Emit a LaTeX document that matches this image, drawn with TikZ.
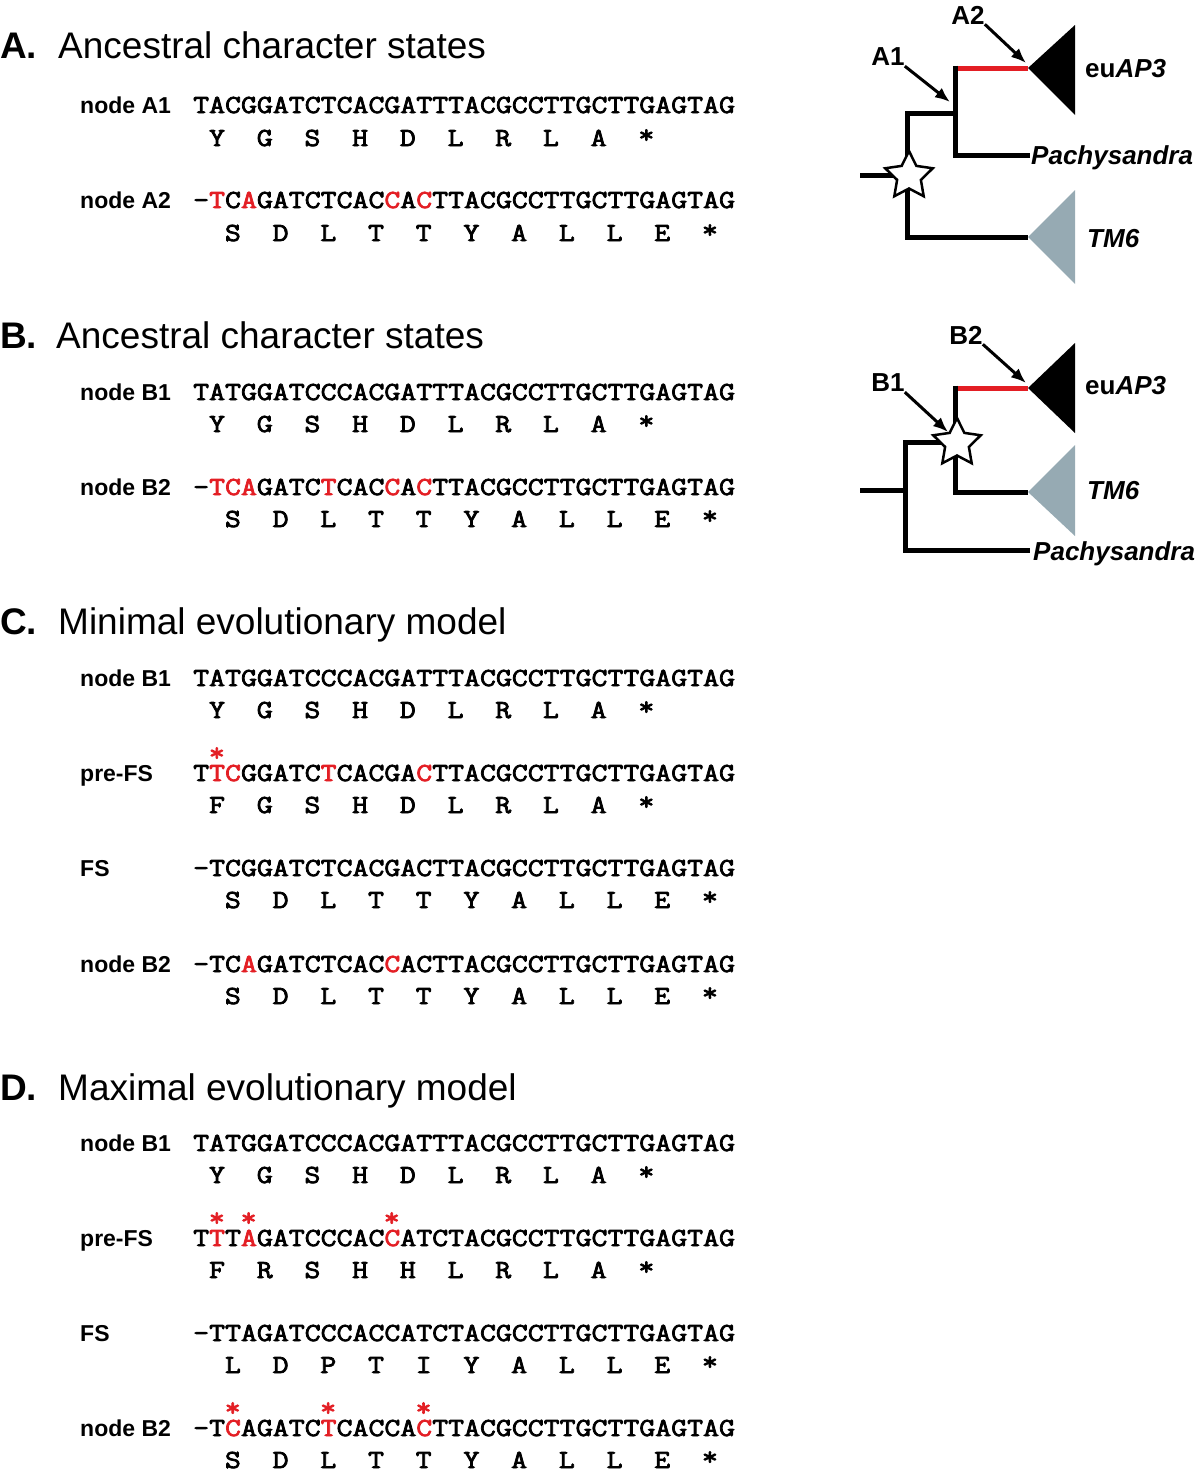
\documentclass[tikz,border=0pt]{standalone}
\usepackage{fontspec}
\setmainfont{Liberation Sans}
\newfontfamily\seqfont{Latin Modern Mono}[FakeStretch=1.19, FakeBold=3]
\usepackage{xcolor}
\usetikzlibrary{shapes.geometric, positioning, arrows.meta}

\definecolor{hit}{RGB}{227,30,36}
\definecolor{clade}{RGB}{150,170,179}

\newlength{\cw}\setlength{\cw}{15.9pt}
\newcommand{\hl}[1]{\textcolor{hit}{#1}}
\newcommand{\stopc}{\raisebox{3pt}{*}}
\newcommand{\codons}[1]{\foreach \res in {#1}{\makebox[3\cw]{\res}}}

\begin{document}
\begin{tikzpicture}[
    x=1pt, y=-1pt,
    heading/.style={anchor=base west, inner sep=0, font=\fontsize{37}{40}\selectfont},
    tag/.style={anchor=base west, inner sep=0, font=\fontsize{23}{26}\selectfont\bfseries},
    seq/.style={anchor=base west, inner sep=0, font=\fontsize{26}{30}\selectfont\seqfont},
    hitstar/.style={seq, anchor=base, text=hit},
    branch/.style={line width=5pt},
    cladelab/.style={anchor=base west, inner sep=0, font=\fontsize{26}{30}\selectfont\bfseries},
    nodelab/.style={cladelab, anchor=center},
    ptr/.style={line width=3pt, -{Latex[length=15pt,width=12pt]}},
    dup/.style={star, star points=5, star point ratio=2, minimum size=50pt, draw, fill=white, line width=2.5pt, inner sep=0}
]
    \useasboundingbox (0,0) rectangle (1200,1475);

    % Panel A
    \node[heading] (hA) at (0,58) {\textbf{A.}};
    \node[heading] (tA) at (58,58) {Ancestral character states};
    \node[tag] (lA1) at (80,113) {node A1};
    \node[seq] (sA1) at (193,113) {TACGGATCTCACGATTTACGCCTTGCTTGAGTAG};
    \node[seq] (pA1) at (193,146) {\codons{Y,G,S,H,D,L,R,L,A,\stopc}};
    \node[tag] (lA2) at (80,208) {node A2};
    \node[seq] (sA2) at (193,208) {–\hl{T}C\hl{A}GATCTCAC\hl{C}A\hl{C}TTACGCCTTGCTTGAGTAG};
    \node[seq] (pA2) at (208.9,241) {\codons{S,D,L,T,T,Y,A,L,L,E,\stopc}};

    % Panel B
    \node[heading] (hB) at (0,348) {\textbf{B.}};
    \node[heading] (tB) at (56,348) {Ancestral character states};
    \node[tag] (lB1) at (80,400) {node B1};
    \node[seq] (sB1) at (193,400) {TATGGATCCCACGATTTACGCCTTGCTTGAGTAG};
    \node[seq] (pB1) at (193,432) {\codons{Y,G,S,H,D,L,R,L,A,\stopc}};
    \node[tag] (lB2) at (80,495) {node B2};
    \node[seq] (sB2) at (193,495) {–\hl{TCA}GATC\hl{T}CAC\hl{C}A\hl{C}TTACGCCTTGCTTGAGTAG};
    \node[seq] (pB2) at (208.9,527) {\codons{S,D,L,T,T,Y,A,L,L,E,\stopc}};

    % Panel C
    \node[heading] (hC) at (0,634) {\textbf{C.}};
    \node[heading] (tC) at (58,634) {Minimal evolutionary model};
    \node[tag] (lC1) at (80,686) {node B1};
    \node[seq] (sC1) at (193,686) {TATGGATCCCACGATTTACGCCTTGCTTGAGTAG};
    \node[seq] (pC1) at (193,718) {\codons{Y,G,S,H,D,L,R,L,A,\stopc}};
    \node[tag] (lC2) at (80,781) {pre-FS};
    \node[seq] (sC2) at (193,781) {T\hl{TC}GGATC\hl{T}CACGA\hl{C}TTACGCCTTGCTTGAGTAG};
    \node[hitstar] (xC2) at ({193+15.9*1.5},761) {*};
    \node[seq] (pC2) at (193,813) {\codons{F,G,S,H,D,L,R,L,A,\stopc}};
    \node[tag] (lC3) at (80,876) {FS};
    \node[seq] (sC3) at (193,876) {–TCGGATCTCACGACTTACGCCTTGCTTGAGTAG};
    \node[seq] (pC3) at (208.9,908) {\codons{S,D,L,T,T,Y,A,L,L,E,\stopc}};
    \node[tag] (lC4) at (80,972) {node B2};
    \node[seq] (sC4) at (193,972) {–TC\hl{A}GATCTCAC\hl{C}ACTTACGCCTTGCTTGAGTAG};
    \node[seq] (pC4) at (208.9,1004) {\codons{S,D,L,T,T,Y,A,L,L,E,\stopc}};

    % Panel D
    \node[heading] (hD) at (0,1100) {\textbf{D.}};
    \node[heading] (tD) at (58,1100) {Maximal evolutionary model};
    \node[tag] (lD1) at (80,1151) {node B1};
    \node[seq] (sD1) at (193,1151) {TATGGATCCCACGATTTACGCCTTGCTTGAGTAG};
    \node[seq] (pD1) at (193,1183) {\codons{Y,G,S,H,D,L,R,L,A,\stopc}};
    \node[tag] (lD2) at (80,1246) {pre-FS};
    \node[seq] (sD2) at (193,1246) {T\hl{T}T\hl{A}GATCCCAC\hl{C}ATCTACGCCTTGCTTGAGTAG};
    \foreach \i in {1,3,12}
        \node[hitstar] (xD2-\i) at ({193+15.9*(\i+0.5)},1226) {*};
    \node[seq] (pD2) at (193,1278) {\codons{F,R,S,H,H,L,R,L,A,\stopc}};
    \node[tag] (lD3) at (80,1341) {FS};
    \node[seq] (sD3) at (193,1341) {–TTAGATCCCACCATCTACGCCTTGCTTGAGTAG};
    \node[seq] (pD3) at (208.9,1373) {\codons{L,D,P,T,I,Y,A,L,L,E,\stopc}};
    \node[tag] (lD4) at (80,1436) {node B2};
    \node[seq] (sD4) at (193,1436) {–T\hl{C}AGATC\hl{T}CACCA\hl{C}TTACGCCTTGCTTGAGTAG};
    \foreach \i in {2,8,14}
        \node[hitstar] (xD4-\i) at ({193+15.9*(\i+0.5)},1416) {*};
    \node[seq] (pD4) at (208.9,1468) {\codons{S,D,L,T,T,Y,A,L,L,E,\stopc}};

    % Tree A
    \draw[branch] (860,175) -- (907,175);
    \draw[branch] (955,113) -- (907,113) -- (907,237) -- (1028,237);
    \draw[branch, hit] (955,68) -- (1028,68);
    \draw[branch] (955,65.5) -- (955,155) -- (1030,155);
    \fill (1028,68) -- (1075,25) -- (1075,115) -- cycle;
    \fill[clade] (1028,237) -- (1075,190) -- (1075,284) -- cycle;
    \node[dup] (dupA) at (909,176) {};
    \node[cladelab] (euA) at (1085,77.5) {eu\textit{AP3}};
    \node[cladelab] (pachA) at (1031,164) {\textit{Pachysandra}};
    \node[cladelab] (tmA) at (1087,247) {\textit{TM6}};
    \node[nodelab] (nA1) at (888,57) {A1};
    \node[nodelab] (nA2) at (968,15) {A2};
    \coordinate (tipA1) at (950,102);
    \coordinate (tipA2) at (1026,63);
    \draw[ptr] (nA1.south east) -- (tipA1);
    \draw[ptr] (nA2.south east) -- (tipA2);

    % Tree B
    \draw[branch] (860,490) -- (905,490);
    \draw[branch] (955,442) -- (905,442) -- (905,550) -- (1030,550);
    \draw[branch, hit] (955,388) -- (1028,388);
    \draw[branch] (955,385.5) -- (955,492) -- (1028,492);
    \fill (1028,388) -- (1075,343) -- (1075,433) -- cycle;
    \fill[clade] (1028,492) -- (1075,445) -- (1075,536) -- cycle;
    \node[dup] (dupB) at (957,443) {};
    \node[cladelab] (euB) at (1085,394) {eu\textit{AP3}};
    \node[cladelab] (tmB) at (1087,499) {\textit{TM6}};
    \node[cladelab] (pachB) at (1033,560) {\textit{Pachysandra}};
    \node[nodelab] (nB1) at (888,383) {B1};
    \node[nodelab] (nB2) at (966,335) {B2};
    \coordinate (tipB1) at (948,432);
    \coordinate (tipB2) at (1026,383);
    \draw[ptr] (nB1.south east) -- (tipB1);
    \draw[ptr] (nB2.south east) -- (tipB2);
\end{tikzpicture}
\end{document}
